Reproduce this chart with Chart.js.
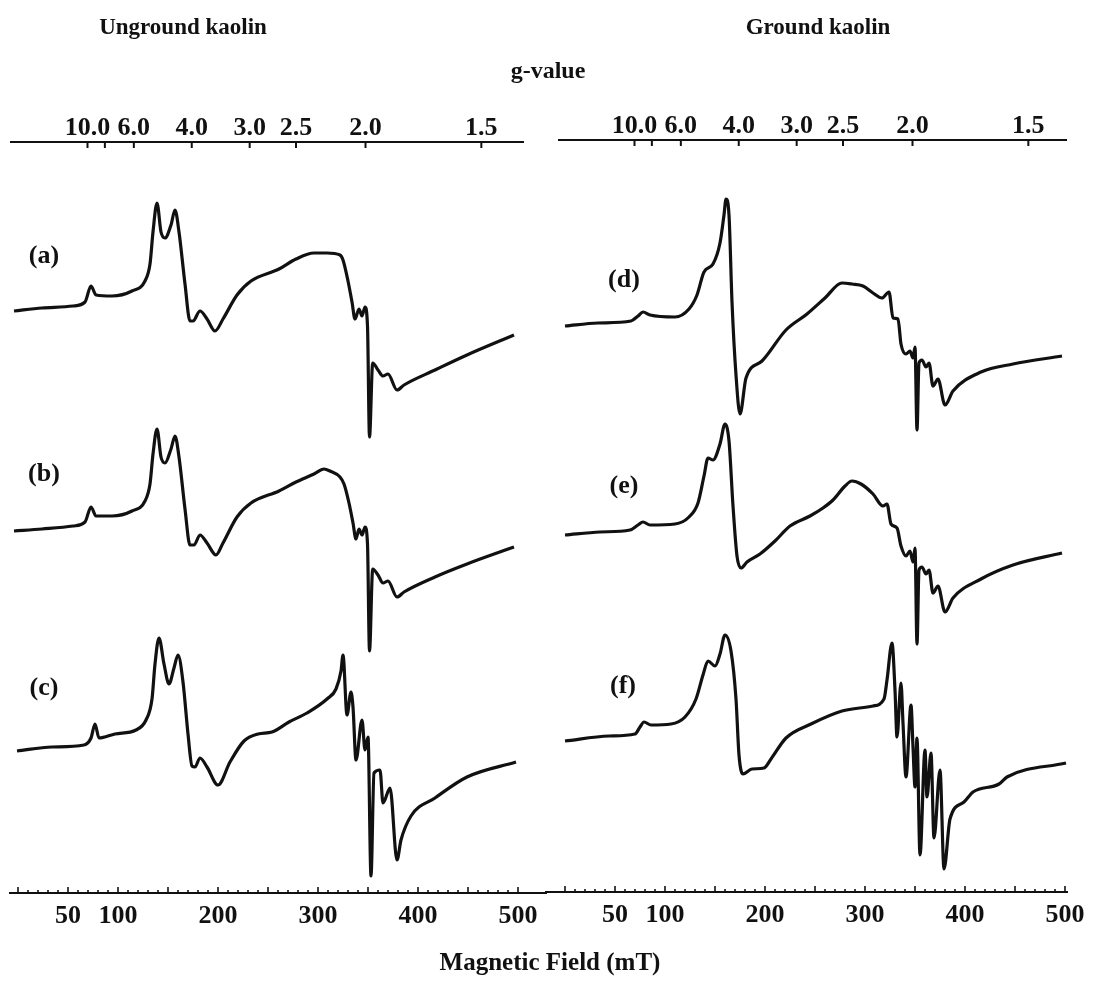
<!DOCTYPE html>
<html>
<head>
<meta charset="utf-8">
<script src="https://cdn.jsdelivr.net/npm/chart.js@4.4.1/dist/chart.umd.min.js"></script>
<style>
  body { margin: 0; background: #fff; width: 1093px; height: 983px; position: relative; overflow: hidden; }
  .box { position: absolute; top: 0; height: 983px; }
  .txt { position: absolute; font-family: "Liberation Serif", serif; font-weight: bold; color: #111;
         white-space: nowrap; transform: translate(-50%, -50%); }
</style>
</head>
<body>
<div class="box" style="left:0;width:560px"><canvas id="unground"></canvas></div>
<div class="box" style="left:540px;width:553px"><canvas id="ground"></canvas></div>

<div class="txt" style="left:183px;top:27px;font-size:23px">Unground kaolin</div>
<div class="txt" style="left:818px;top:27px;font-size:23px">Ground kaolin</div>
<div class="txt" style="left:548px;top:70px;font-size:24px">g-value</div>
<div class="txt" style="left:550px;top:962px;font-size:25px">Magnetic Field (mT)</div>

<div class="txt" style="left:44px;top:255px;font-size:26px">(a)</div>
<div class="txt" style="left:44px;top:473px;font-size:26px">(b)</div>
<div class="txt" style="left:44px;top:687px;font-size:26px">(c)</div>
<div class="txt" style="left:624px;top:279px;font-size:26px">(d)</div>
<div class="txt" style="left:624px;top:485px;font-size:26px">(e)</div>
<div class="txt" style="left:623px;top:685px;font-size:26px">(f)</div>

<script>
// magnetic field (mT) and signal (arb. units)
var fieldA = [-4,24,55,67,73,78,94,114,127,132,135,139,143,147,153,157,161,167,172,175,182,189,197,205,219,233,261,278,296,309,322,325,330,334,337,341,344,347,349.5,351.5,354.7,360,365,370,379,386,417,449,496];
var signalA = [-1,2,4,8,24,15,14,19,29,46,78,107,78,72,85,100,78,26,-11,-11,-1,-9,-21,-9,15,29,41,51,57,57,55,50,29,8,-9,1,-6,3,-16,-127,-53,-60,-66,-64,-80,-75,-60,-45,-25];

var fieldB = [-4,24,55,67,73,78,94,114,127,132,135,139,143,147,153,157,161,167,172,176,182,189,198,205,219,233,261,278,296,306,312,322,326,331,335,338,341,344,347,349.5,351.5,354.7,360,365,370,379,386,417,449,496];
var signalB = [-2,0,3,7,22,13,13,18,28,45,75,100,72,66,80,93,72,20,-16,-16,-6,-14,-26,-14,12,26,38,47,55,60,58,52,45,26,6,-10,0,-6,2,-15,-122,-40,-46,-54,-52,-68,-63,-48,-35,-18];

var fieldC = [-1,34,66,73,77,81,97,118,128,134,137,141,146,151,156,160,165,170,174,177,182,189,200,212,226,240,254,271,289,309,318,323,325,329,333,335,338,344,347,350,353,356,362,365,372,379,383,393,417,449,498];
var signalC = [-3,1,3,10,24,10,14,18,28,49,84,110,84,64,80,93,66,14,-18,-19,-10,-19,-37,-14,7,14,16,26,35,49,59,77,93,33,56,41,-12,28,-2,11,-128,-25,-22,-55,-40,-112,-92,-68,-50,-29,-14];

var fieldD = [0,33,66,73,78,85,110,124,132,139,148,155,159,161,164,167,171,175,181,197,221,242,260,277,287,298,308,317,324,328,333,336,341,345,348,350,352,354,357,361,364,368,373,380,388,416,448,497];
var signalD = [0,3,5,10,14,11,9,17,31,54,62,83,111,127,111,24,-49,-88,-52,-35,-4,12,28,43,42,40,33,28,34,8,7,-18,-28,-25,-32,-21,-104,-37,-34,-41,-37,-60,-53,-79,-65,-46,-38,-30];

var fieldE = [0,35,65,73,78,85,110,124,133,139,143,148,155,160,164,168,172,176,182,195,210,225,245,258,268,280,287,296,308,318,322,326,332,336,341,345,348,350,352,354,357,361,364,368,373,380,388,416,448,497];
var signalE = [1,4,6,11,14,11,12,19,33,60,78,76,92,112,95,30,-20,-32,-26,-18,-5,10,20,28,36,50,55,52,42,30,32,12,8,-10,-20,-15,-26,-12,-108,-34,-31,-38,-34,-57,-50,-76,-62,-43,-29,-17];

var fieldF = [0,44,70,75,79,86,106,120,131,138,143,150,155,160,166,171,174,178,187,199,206,221,246,277,308,319,322,327,330,332,336,338,341,346,348,350,352,355,360,362,366,369,375,379,385,399,408,434,442,501];
var signalF = [4,9,11,18,23,20,21,28,46,70,84,79,91,110,94,46,-10,-29,-24,-23,-14,7,21,34,39,46,65,102,55,8,62,22,-32,40,-2,-42,7,-110,-5,-52,-8,-93,-25,-124,-74,-57,-47,-39,-32,-18];

// axis ticks
var fieldTicks = [];
for (var t = 0; t <= 500; t += 10) fieldTicks.push(t);
var fieldLabels = [50, 100, 200, 300, 400, 500];
var gTicks = [10.0, 8.0, 6.0, 4.0, 3.0, 2.5, 2.0, 1.5];
var gLabels = ['10.0', '', '6.0', '4.0', '3.0', '2.5', '2.0', '1.5'];
var HV = 695; // h*nu/muB in mT, B = HV / g

var ink = '#111';
var tickFont = { family: 'Liberation Serif', weight: 'bold', size: 26 };

function series(field, signal, shift) {
    return {
        data: field.map(function (b, i) { return { x: b, y: signal[i] + shift }; }),
        borderColor: ink,
        borderWidth: 3.2,
        pointRadius: 0,
        fill: false,
        cubicInterpolationMode: 'monotone'
    };
}

// ticks of both field axes point into the plot
var axisMarks = {
    id: 'axisMarks',
    afterDraw: function (chart, args, opts) {
        var ctx = chart.ctx, x = chart.scales.x, area = chart.chartArea;
        ctx.save();
        ctx.strokeStyle = ink;
        ctx.lineWidth = 1.6;
        fieldTicks.forEach(function (v) {
            var px = x.getPixelForValue(v);
            var len = v % 50 === 0 ? 6 : 3;
            ctx.beginPath();
            ctx.moveTo(px, area.bottom);
            ctx.lineTo(px, area.bottom - len);
            ctx.stroke();
        });
        ctx.lineWidth = 2;
        ctx.beginPath();
        ctx.moveTo(x.getPixelForValue(opts.topFrom), area.top);
        ctx.lineTo(x.getPixelForValue(opts.topTo), area.top);
        ctx.stroke();
        gTicks.forEach(function (g) {
            var px = x.getPixelForValue(HV / g);
            ctx.beginPath();
            ctx.moveTo(px, area.top);
            ctx.lineTo(px, area.top + 6);
            ctx.stroke();
        });
        ctx.restore();
    }
};

function makeChart(id, sets, o) {
    return new Chart(document.getElementById(id), {
        type: 'line',
        data: { datasets: sets },
        options: {
            responsive: true,
            maintainAspectRatio: false,
            animation: false,
            layout: { padding: { left: o.padLeft, right: o.padRight, top: 0, bottom: 0 } },
            plugins: {
                legend: { display: false },
                tooltip: { enabled: false },
                axisMarks: { topFrom: o.topFrom, topTo: o.topTo }
            },
            scales: {
                x: {
                    type: 'linear',
                    position: 'bottom',
                    min: o.min, max: o.max,
                    afterBuildTicks: function (axis) {
                        axis.ticks = fieldTicks.map(function (v) { return { value: v }; });
                    },
                    afterFit: function (axis) { axis.height = o.bottomH; },
                    grid: { display: false, drawTicks: false },
                    border: { display: true, color: ink, width: 2 },
                    ticks: {
                        autoSkip: false, maxRotation: 0, padding: 8,
                        color: ink, font: tickFont,
                        callback: function (v) { return fieldLabels.indexOf(v) >= 0 ? String(v) : ''; }
                    }
                },
                gx: {
                    type: 'linear',
                    position: 'top',
                    min: o.min, max: o.max,
                    afterBuildTicks: function (axis) {
                        axis.ticks = gTicks.map(function (g) { return { value: HV / g }; });
                    },
                    afterFit: function (axis) { axis.height = o.topH; },
                    grid: { display: false, drawTicks: false },
                    border: { display: false },
                    ticks: {
                        autoSkip: false, maxRotation: 0, padding: -2,
                        color: ink, font: tickFont,
                        callback: function (v, i) { return gLabels[i]; }
                    }
                },
                y: { display: false, min: 0, max: o.yMax }
            }
        },
        plugins: [axisMarks]
    });
}

makeChart('unground', [
    series(fieldA, signalA, 583),
    series(fieldB, signalB, 364),
    series(fieldC, signalC, 145)
], { padLeft: 10, padRight: 14, min: -8, max: 528, bottomH: 90, topH: 142, yMax: 751, topFrom: -8, topTo: 506 });

makeChart('ground', [
    series(fieldD, signalD, 566),
    series(fieldE, signalE, 356),
    series(fieldF, signalF, 147)
], { padLeft: 6, padRight: 26, min: -19, max: 502, bottomH: 91, topH: 140, yMax: 752, topFrom: -7, topTo: 502 });
</script>
</body>
</html>
